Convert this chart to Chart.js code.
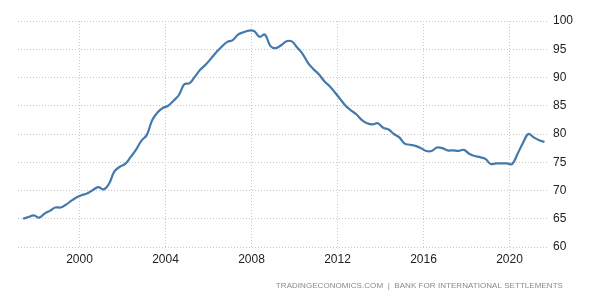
<!DOCTYPE html>
<html>
<head>
<meta charset="utf-8">
<script src="https://cdn.jsdelivr.net/npm/chart.js@4"></script>
<style>
  html, body { margin: 0; padding: 0; background: #fff; }
  #wrap { width: 600px; height: 300px; position: relative; }
</style>
</head>
<body>
<div id="wrap"><canvas id="graf"></canvas></div>
<script>
// kvartalsdata, första kvartalet 1997 Q2
const firstYear = 1997;
const firstQuarter = 2;
const values = [
  65.0, 65.3, 65.6,
  65.2, 65.9, 66.4, 67.0,
  67.0, 67.5, 68.2, 68.8,
  69.2, 69.5, 70.1, 70.6,
  70.2, 71.2, 73.4, 74.2,
  74.7, 75.9, 77.2, 78.8,
  79.8, 82.4, 83.8, 84.6,
  85.0, 85.9, 86.9, 88.8,
  89.0, 90.2, 91.4, 92.3,
  93.4, 94.5, 95.5, 96.3,
  96.6, 97.6, 98.0, 98.3,
  98.2, 97.2, 97.6, 95.6,
  95.2, 95.7, 96.4, 96.4,
  95.3, 94.2, 92.6, 91.5,
  90.6, 89.4, 88.5, 87.4,
  86.2, 85.0, 84.2, 83.5,
  82.5, 81.9, 81.7, 81.9,
  81.1, 80.8, 80.0, 79.4,
  78.3, 78.1, 77.9, 77.5,
  77.0, 77.0, 77.6, 77.5,
  77.1, 77.1, 77.0, 77.2,
  76.5, 76.1, 75.9, 75.6,
  74.7, 74.8, 74.8, 74.8,
  74.7, 76.5, 78.4, 80.0,
  79.4, 78.9, 78.6
];
const yearTicks = [2000, 2004, 2008, 2012, 2016, 2020];
const yTicks = [60, 65, 70, 75, 80, 85, 90, 95, 100];
const source = 'TRADINGECONOMICS.COM  |  BANK FOR INTERNATIONAL SETTLEMENTS';

// punkt mitt i kvartalet
const points = values.map((v, i) => {
  const q = firstQuarter - 1 + i;
  return { x: firstYear + Math.floor(q / 4) + (q % 4) * 0.25 + 0.125, y: v };
});

const sourcePlugin = {
  id: 'source',
  afterDraw(chart) {
    const ctx = chart.ctx;
    ctx.save();
    ctx.font = '8px "Liberation Sans", Arial, sans-serif';
    if ('letterSpacing' in ctx) ctx.letterSpacing = '0.05px';
    ctx.fillStyle = '#8a8a8a';
    ctx.textAlign = 'right';
    ctx.textBaseline = 'middle';
    ctx.fillText(source, 563, 286);
    ctx.restore();
  }
};

const dots = { color: '#c8c8c8', lineWidth: 1, drawTicks: false };

new Chart(document.getElementById('graf'), {
  type: 'line',
  data: {
    datasets: [{
      data: points,
      borderColor: '#4479ab',
      borderWidth: 2.2,
      pointRadius: 0,
      tension: 0.4,
      fill: false
    }]
  },
  options: {
    responsive: true,
    maintainAspectRatio: false,
    animation: false,
    events: [],
    layout: { padding: { left: 18, top: 21, right: 0, bottom: 0 } },
    plugins: { legend: { display: false }, tooltip: { enabled: false } },
    scales: {
      x: {
        type: 'linear',
        min: 1997.14,
        max: 2021.79,
        afterBuildTicks(scale) { scale.ticks = yearTicks.map(v => ({ value: v })); },
        afterFit(scale) { scale.height = 53; },
        grid: dots,
        border: { display: false, dash: [1, 2] },
        ticks: {
          padding: 5,
          color: '#222',
          font: { family: '"Liberation Sans", Arial, sans-serif', size: 12 },
          maxRotation: 0,
          callback: v => String(v)
        }
      },
      y: {
        position: 'right',
        min: 60,
        max: 100,
        afterBuildTicks(scale) { scale.ticks = yTicks.map(v => ({ value: v })); },
        afterFit(scale) { scale.width = 52; },
        grid: dots,
        border: { display: false, dash: [1, 2] },
        ticks: {
          padding: 5,
          color: '#222',
          font: { family: '"Liberation Sans", Arial, sans-serif', size: 12 }
        }
      }
    }
  },
  plugins: [sourcePlugin]
});
</script>
</body>
</html>
